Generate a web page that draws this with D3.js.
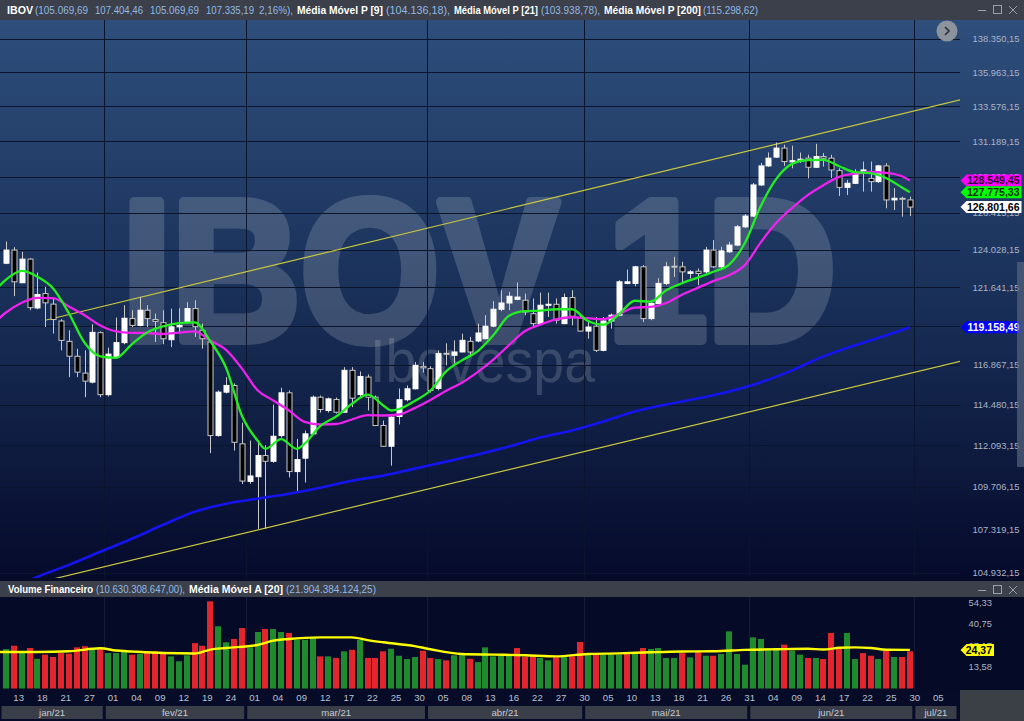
<!DOCTYPE html>
<html><head><meta charset="utf-8">
<script src="https://cdn.jsdelivr.net/npm/d3@7"></script>
<style>body{margin:0;background:#000;overflow:hidden}svg{display:block}</style>
</head><body><svg id="c" width="1024" height="721"></svg>
<script>
// ---------------- DATA ----------------
const dates = ["12/01","13/01","14/01","15/01","18/01","19/01","20/01","21/01","22/01","26/01","27/01","28/01","29/01",
"01/02","02/02","03/02","04/02","05/02","08/02","09/02","10/02","11/02","12/02","17/02","18/02","19/02","22/02","23/02","24/02","25/02","26/02",
"01/03","02/03","03/03","04/03","05/03","08/03","09/03","10/03","11/03","12/03","15/03","16/03","17/03","18/03","19/03","22/03","23/03","24/03","25/03","26/03","29/03","30/03","31/03",
"01/04","05/04","06/04","07/04","08/04","09/04","12/04","13/04","14/04","15/04","16/04","19/04","20/04","22/04","23/04","26/04","27/04","28/04","29/04","30/04",
"03/05","04/05","05/05","06/05","07/05","10/05","11/05","12/05","13/05","14/05","17/05","18/05","19/05","20/05","21/05","24/05","25/05","26/05","27/05","28/05","31/05",
"01/06","02/06","04/06","07/06","08/06","09/06","10/06","11/06","14/06","15/06","16/06","17/06","18/06","21/06","22/06","23/06","24/06","25/06","28/06","29/06","30/06",
"01/07","02/07","05/07"];
const monthLabels = ["jan/21","fev/21","mar/21","abr/21","mai/21","jun/21","jul/21"];
const tickDates = ["13/01","18/01","21/01","27/01","01/02","04/02","09/02","12/02","19/02","24/02","01/03","04/03","09/03","12/03","17/03","22/03","25/03","30/03","05/04","08/04","13/04","16/04","22/04","27/04","30/04","05/05","10/05","13/05","18/05","21/05","26/05","31/05","04/06","09/06","14/06","17/06","22/06","25/06","30/06","05/07"];

const open = [123170,124010,121930,123430,120350,121250,120590,119540,118290,117380,116360,115820,118820,115070,117330,118210,119690,119270,120210,119630,119440,118390,119180,119460,120310,118970,118250,112660,115220,115620,112180,110020,110290,111500,111170,112660,115180,110580,111350,112760,114920,114130,114780,114030,116530,115080,116120,114920,113250,112040,113780,114770,115420,116770,116630,115440,117560,117440,117640,118290,118310,118450,119220,120270,120660,120890,120830,119990,119380,120520,120580,119380,121000,119760,118920,119220,117740,119540,119900,121890,121890,122940,119690,120630,121890,122980,122940,122520,122660,122620,124010,122940,123900,124330,125510,126210,128260,129530,130120,130730,129800,129880,130050,129440,130160,130050,129210,128100,128370,129040,128700,128480,129530,127270,127380,127270];
const high = [124560,124200,123900,123490,122580,121670,120940,119650,118970,117840,117740,119340,118900,117900,119750,120520,120210,121040,120520,120000,120210,120310,120330,120710,120830,119380,118350,115320,116120,115740,113410,112370,112370,112100,114480,115480,115320,112470,112950,115020,115020,114900,114900,116720,116720,116460,116280,115020,113540,113840,115440,115620,117030,117030,116770,117740,118170,118350,118760,118560,119380,119900,120770,121460,121360,121950,121250,120940,121310,121310,120940,121250,121460,119840,119480,119790,119790,120000,122090,122770,123000,123050,120830,122220,123240,123580,123260,122730,122830,124220,124650,124220,124540,125630,126340,128390,129730,130430,131110,130960,130890,130430,130280,131020,130390,130280,129370,128590,129310,129820,129820,129600,129710,128050,127480,127480];
const low = [123110,121090,121910,120210,120270,119170,118770,117740,116120,116120,114920,115740,114920,114960,117310,118110,119170,119210,119170,118250,118110,117940,118790,119400,118560,117840,111640,112600,115140,111790,109870,109890,107350,107350,111090,112540,110250,109400,109960,112720,114010,114010,113950,114010,114330,114900,114130,113220,112020,110920,113310,114670,115380,116400,115200,115320,116830,116930,117620,117440,118230,118410,119160,120150,120210,120830,119900,119170,119340,119790,119380,119340,119270,118900,118450,117640,117680,119070,119840,121840,121710,119480,119590,120590,121780,122300,121890,122200,121780,122520,122860,122860,123820,124270,125430,126150,128190,129460,130070,129530,129370,129730,128700,129400,129490,128720,127530,127590,128320,127820,127820,128390,126720,126610,126170,126210];
const close = [124010,121990,123430,120370,121190,120670,119630,118350,117380,116420,115880,118840,115070,117510,118210,119710,119270,120210,119690,119520,118450,119180,119270,120310,119190,118450,112660,115220,115620,112270,110040,110330,111500,111170,112620,115180,110580,111270,112760,114920,114190,114820,114030,116530,114860,116160,114920,113250,112040,113740,114770,115420,116830,116680,115320,117540,117500,117640,118350,117640,118800,119220,120270,120660,121080,121030,120100,119380,120520,120580,119590,121000,119840,118920,119170,117740,119540,119900,121990,121990,122940,119690,120630,121890,122940,122940,122620,122620,122520,124010,122940,123960,124330,125510,126210,128260,129530,130050,130730,129820,129880,129980,129440,130160,130050,129260,128100,128370,129040,129260,128480,129530,127270,127380,127310,126801.66];

// moving averages: [day index, value]
const ma9 = [[-1,121650],[0,122125],[2,122680],[4,122310],[6,121570],[8,120020],[10,118200],[12,117375],[14,117285],[16,118110],[18,118845],[20,119215],[22,119410],[24,119460],[26,118290],[28,116680],[30,113840],[32,112370],[33,111890],[35,112450],[37,111890],[38,112195],[40,113220],[42,113780],[44,114520],[46,115070],[48,114430],[49,114130],[50,114220],[52,114695],[54,115320],[56,116465],[58,117130],[60,117680],[62,118660],[64,119865],[66,120150],[68,120190],[70,120270],[72,120270],[74,119555],[76,119310],[78,119960],[80,120800],[82,120740],[84,121460],[86,121900],[88,122250],[90,122630],[92,123080],[94,124460],[96,126840],[98,128660],[100,129665],[102,129915],[104,129935],[106,129510],[108,129110],[110,129040],[112,128710],[114,128095],[115,127775.33]];
const ma21 = [[-1,119650],[0,120066],[2,120678],[4,120985],[6,120960],[8,120440],[10,119897],[12,119265],[14,118906],[16,118814],[18,118802],[20,118740],[22,118826],[24,118906],[26,118340],[28,117770],[30,116646],[32,115335],[34,114725],[36,114132],[38,113466],[40,113307],[42,113336],[44,113601],[46,113860],[48,113837],[50,113896],[52,114274],[54,114755],[56,115305],[58,115778],[60,116416],[62,117174],[64,118058],[66,118906],[68,119320],[70,119636],[72,119773],[74,119717],[76,119661],[78,119972],[80,120372],[82,120416],[84,120659],[86,121178],[88,121608],[90,122037],[92,122411],[94,123047],[96,124486],[98,125771],[100,126739],[102,127591],[104,128248],[106,128794],[108,129015],[110,129122],[112,129068],[114,128834],[115,128549.45]];
const ma200 = [[0,103958],[4,104716],[8,105370],[12,106083],[16,106800],[20,107578],[24,108308],[28,108758],[32,109040],[36,109323],[40,109663],[44,110062],[48,110348],[52,110750],[56,111152],[60,111557],[64,112020],[68,112545],[72,112955],[76,113483],[80,114073],[84,114488],[88,114845],[92,115263],[96,115802],[100,116525],[104,117373],[108,118046],[112,118660],[115,119158.49]];
// channel trendlines: [startIndex, startPrice, endIndex, endPrice]
const channel = [[5,119586,121.4,134042],[5,104499,121.4,117070]];

const volume = [24.9,27.0,23.1,25.6,18.8,21.4,19.9,22.4,22.0,26.0,26.7,25.0,25.6,22.4,22.4,23.5,21.4,21.8,23.1,23.5,23.1,20.3,17.2,21.0,28.7,27.0,55.1,39.3,29.2,31.3,38.2,26.0,35.7,37.6,37.6,35.7,35.1,30.8,30.8,31.9,20.3,20.3,19.3,23.5,24.5,30.8,19.3,19.3,23.5,25.1,20.7,18.6,19.9,23.9,19.3,18.6,17.8,21.0,21.4,18.8,16.7,26.0,20.3,20.7,21.0,25.6,19.9,20.3,19.3,17.8,19.7,21.0,20.3,29.4,21.4,21.8,21.4,21.4,21.4,22.4,22.4,25.6,25.0,25.6,19.3,19.3,22.4,19.7,23.1,20.7,20.7,21.8,36.1,21.8,15.0,32.3,31.3,25.6,25.0,27.7,23.9,21.4,19.3,19.3,18.6,35.1,25.0,35.1,18.6,22.4,20.7,18.6,23.9,19.9,19.9,23.5];
const volUp = [1,0,1,0,1,0,0,0,0,0, 0,1,0,1,1,1,0,1,0,0, 0,1,1,1,0,0,0,1,1,0, 0,1,1,0,1,1,0,1,1,1, 0,1,0,1,0,1,0,0,0,1, 1,1,1,0,0,1,0,1,1,0, 1,1,1,1,1,0,0,0,1,1, 0,1,0,0,1,0,1,1,1,0, 1,0,1,1,1,1,0,1,0,1, 0,1,1,1,1,1,1,1,1,0, 1,1,0,1,0,0,0,1,1,0, 0,1,0,1,0,0];
const volMa20 = [[-1,23.1],[0,23.1],[4,23.1],[8,23.5],[12,25.4],[14,24.0],[16,23.4],[20,22.4],[24,22.1],[26,24.6],[28,25.6],[32,27.5],[34,30.2],[36,31.3],[38,32.0],[40,32.3],[44,32.3],[46,30.6],[48,29.2],[52,26.8],[54,24.8],[58,21.8],[62,21.4],[66,21.0],[70,20.3],[74,21.8],[78,22.2],[82,22.9],[86,23.4],[90,23.5],[94,24.4],[98,24.8],[102,25.1],[104,24.6],[106,25.7],[108,26.0],[110,25.6],[112,24.5],[115,24.37]];

const priceTicks = [104932.15,107319.15,109706.15,112093.15,114480.15,116867.15,119254.15,121641.15,124028.15,126415.15,128802.15,131189.15,133576.15,135963.15,138350.15];
const volTicks = [13.58,27.17,40.75,54.33];
const lastValues = [128549.45,127775.33,126801.66,119158.49];
const lastColors = ["#ff00ff","#00ff00","#ffffff","#0000ff"];
const lastText = ["#2a002a","#002a00","#000000","#ffffff"];
const volLast = 24.37;

const header = [["IBOV",1,7,26],["(105.069,69",0,35,53],["107.404,46",0,95,48],["105.069,69",0,150,49],["107.335,19",0,206,48],["2,16%),",0,259,34],
 ["Média Móvel P [9]",1,297,86],["(104.136,18),",0,386,64],["Média Móvel P [21]",1,454,84],["(103.938,78),",0,541,59],["Média Móvel P [200]",1,604,97],["(115.298,62)",0,703,55]];
const volHeader = [["Volume Financeiro",1,8,85],["(10.630.308.647,00),",0,96,89],["Média Móvel A [20]",1,189,94],["(21.904.384.124,25)",0,286,90]];

// ---------------- DRAW ----------------
const svg = d3.select("#c");
const loc = d3.formatLocale({decimal:",",thousands:".",grouping:[3],currency:["",""]});
const fmt = loc.format(",.2f");
const FONT = "'Liberation Sans', Arial, sans-serif";

const x = d3.scaleLinear().domain([0,115]).range([6,909.9]);
const y = d3.scaleLog().domain([104932.15,138350.15]).range([572.9,38.6]);
const yv = d3.scaleLinear().domain([0,54.33]).range([688.5,602.5]);
const N = close.length;

const defs = svg.append("defs");
const gr = defs.append("linearGradient").attr("id","bg").attr("x1",0).attr("y1",0).attr("x2",0).attr("y2",1);
gr.append("stop").attr("offset","0%").attr("stop-color","#2e4e7b");
gr.append("stop").attr("offset","45%").attr("stop-color","#1b335c");
gr.append("stop").attr("offset","100%").attr("stop-color","#050a2b");
defs.append("clipPath").attr("id","cm").append("rect").attr("x",0).attr("y",20).attr("width",960).attr("height",558);
defs.append("clipPath").attr("id","cv").append("rect").attr("x",0).attr("y",597).attr("width",960).attr("height",92);

// backgrounds
svg.append("rect").attr("x",0).attr("y",0).attr("width",1024).attr("height",721).attr("fill","#060b28");
svg.append("rect").attr("x",0).attr("y",20).attr("width",1024).attr("height",558).attr("fill","url(#bg)");
svg.append("rect").attr("x",0).attr("y",0).attr("width",1024).attr("height",20).attr("fill","#3b404b");
svg.append("rect").attr("x",0).attr("y",581).attr("width",1024).attr("height",16).attr("fill","#3b404b");
svg.append("rect").attr("x",0).attr("y",597).attr("width",1024).attr("height",93).attr("fill","#050a26");

// watermark
const wm = svg.append("g").attr("opacity",0.16);
wm.append("text").attr("x",122).attr("y",340).attr("font-family",FONT).attr("font-weight","bold")
  .attr("font-size",200).attr("textLength",714).attr("lengthAdjust","spacingAndGlyphs")
  .attr("fill","#ffffff").attr("stroke","#ffffff").attr("stroke-width",10).attr("stroke-linejoin","round").text("IBOV 1D");
svg.append("text").attr("x",370).attr("y",382).attr("font-family",FONT)
  .attr("font-size",62).attr("textLength",225).attr("lengthAdjust","spacingAndGlyphs")
  .attr("fill","#ffffff").attr("fill-opacity",0.16).text("Ibovespa");

const main = svg.append("g").attr("clip-path","url(#cm)");
// grid
main.selectAll(".hg").data(priceTicks).join("line").attr("x1",0).attr("x2",960)
  .attr("y1",d=>Math.round(y(d))+0.5).attr("y2",d=>Math.round(y(d))+0.5).attr("stroke","#0a142c").attr("stroke-width",1);
const monthStarts = [];
dates.forEach((d,i)=>{ if(i>0 && d.slice(3)!==dates[i-1].slice(3)) monthStarts.push(i); });
main.selectAll(".vg").data(monthStarts).join("line").attr("y1",20).attr("y2",578)
  .attr("x1",d=>Math.round(x(d-0.5))+0.5).attr("x2",d=>Math.round(x(d-0.5))+0.5).attr("stroke","#0a142c").attr("stroke-width",1);

// channel lines
main.selectAll(".ch").data(channel).join("line")
  .attr("x1",d=>x(d[0])).attr("y1",d=>y(d[1])).attr("x2",d=>x(d[2])).attr("y2",d=>y(d[3]))
  .attr("stroke","#c9c83e").attr("stroke-width",1.2);

// candles
const idx = d3.range(N);
main.selectAll(".wk").data(idx).join("line")
  .attr("x1",i=>Math.round(x(i))+0.5).attr("x2",i=>Math.round(x(i))+0.5)
  .attr("y1",i=>y(high[i])).attr("y2",i=>y(low[i])).attr("stroke","#c9c9c9").attr("stroke-width",1);
main.selectAll(".bd").data(idx).join("rect")
  .attr("x",i=>Math.round(x(i))-2).attr("width",5)
  .attr("y",i=>y(Math.max(open[i],close[i])))
  .attr("height",i=>Math.max(1,Math.abs(y(open[i])-y(close[i]))))
  .attr("fill",i=>close[i]>=open[i]?"#ffffff":"#000000")
  .attr("stroke",i=>close[i]>=open[i]?"#ffffff":"#c9c9c9").attr("stroke-width",1);

// moving averages
const line = d3.line().x(d=>x(d[0])).y(d=>y(d[1])).curve(d3.curveMonotoneX);
main.append("path").attr("d",line(ma200)).attr("fill","none").attr("stroke","#1414f0").attr("stroke-width",2.6);
main.append("path").attr("d",line(ma21)).attr("fill","none").attr("stroke","#ee22ee").attr("stroke-width",2.3);
main.append("path").attr("d",line(ma9)).attr("fill","none").attr("stroke","#22ee22").attr("stroke-width",2.3);

// price axis labels
svg.selectAll(".pt").data(priceTicks).join("text").attr("x",1019.5).attr("y",d=>y(d)+3.3)
  .attr("text-anchor","end").attr("font-family",FONT).attr("font-size",9.4).attr("fill","#aab4c6").text(d=>fmt(d));

// last value tags
function tag(cy,color,txtColor,text,right,fs){
  const h=12, tip=960.5;
  svg.append("path").attr("d",`M${tip},${cy} L${tip+6},${cy-h/2} L${right},${cy-h/2} L${right},${cy+h/2} L${tip+6},${cy+h/2} Z`).attr("fill",color);
  svg.append("text").attr("x",right-2).attr("y",cy+3.8).attr("text-anchor","end").attr("font-family",FONT)
    .attr("font-weight","bold").attr("font-size",fs).attr("fill",txtColor).text(text);
}
lastValues.forEach((v,k)=>tag(y(v),lastColors[k],lastText[k],fmt(v),1021.5,10.5));

// scrollbar strip + nav button
svg.append("rect").attr("x",1017).attr("y",262).attr("width",7).attr("height",205).attr("fill","#56647c").attr("opacity",0.7);
svg.append("circle").attr("cx",947).attr("cy",31).attr("r",10.5).attr("fill","#8d939c");
svg.append("path").attr("d","M945,27 L949,31 L945,35").attr("fill","none").attr("stroke","#2a2e36").attr("stroke-width",1.6);

// header texts
function headerText(arr,yy){
  svg.selectAll(null).data(arr).join("text").attr("x",d=>d[2]).attr("y",yy).attr("font-family",FONT)
    .attr("font-size",11).attr("font-weight",d=>d[1]?"bold":"normal").attr("fill",d=>d[1]?"#ffffff":"#93b9e3")
    .attr("textLength",d=>d[3]).attr("lengthAdjust","spacingAndGlyphs").text(d=>d[0]);
}
headerText(header,14);
headerText(volHeader,593);
function winCtl(yy){
  svg.append("line").attr("x1",978).attr("x2",986).attr("y1",yy+0.5).attr("y2",yy+0.5).attr("stroke","#9aa0a8");
  svg.append("rect").attr("x",993.5).attr("y",yy-4.5).attr("width",8).attr("height",8).attr("fill","none").attr("stroke","#9aa0a8");
  svg.append("path").attr("d",`M1009,${yy-4} L1017,${yy+4} M1017,${yy-4} L1009,${yy+4}`).attr("stroke","#9aa0a8");
}
winCtl(10); winCtl(590);

// volume panel
const vol = svg.append("g").attr("clip-path","url(#cv)");
vol.selectAll(".vgl").data(monthStarts).join("line").attr("y1",597).attr("y2",689)
  .attr("x1",d=>Math.round(x(d-0.5))+0.5).attr("x2",d=>Math.round(x(d-0.5))+0.5).attr("stroke","#131c3a");
vol.selectAll(".vb").data(idx).join("rect")
  .attr("x",i=>Math.round(x(i))-3).attr("width",6)
  .attr("y",i=>yv(volume[i])).attr("height",i=>yv(0)-yv(volume[i]))
  .attr("fill",i=>volUp[i]?"#1f8b2d":"#e2262b");
const vline = d3.line().x(d=>x(d[0])).y(d=>yv(d[1])).curve(d3.curveMonotoneX);
vol.append("path").attr("d",vline(volMa20)).attr("fill","none").attr("stroke","#ffff00").attr("stroke-width",2.4);
svg.selectAll(".vt").data(volTicks).join("text").attr("x",992).attr("y",d=>yv(d)+3.3).attr("text-anchor","end")
  .attr("font-family",FONT).attr("font-size",9.4).attr("fill","#aab4c6").text(d=>fmt(d));
(function(){const cy=yv(volLast),h=12,tip=960.5,r=994;
  svg.append("path").attr("d",`M${tip},${cy} L${tip+6},${cy-h/2} L${r},${cy-h/2} L${r},${cy+h/2} L${tip+6},${cy+h/2} Z`).attr("fill","#ffff00");
  svg.append("text").attr("x",r-2).attr("y",cy+3.8).attr("text-anchor","end").attr("font-family",FONT).attr("font-weight","bold")
   .attr("font-size",10.5).attr("fill","#000").text(fmt(volLast));})();

// x axis labels
svg.selectAll(".xt").data(tickDates).join("text").attr("x",d=>x(dates.indexOf(d))-0.5).attr("y",700.5)
  .attr("font-family",FONT).attr("font-size",9.6).attr("fill","#b9c1d0").text(d=>d.slice(0,2));
// month bar
const bounds = [-0.76].concat(monthStarts.map(m=>m-0.5)).concat([121.4]);
const mb = monthLabels.map((m,k)=>({label:m,a:x(bounds[k]),b:x(bounds[k+1])}));
mb[mb.length-1].b = 958;
svg.selectAll(".mb").data(mb).join("rect").attr("x",d=>d.a+1.5).attr("y",706).attr("width",d=>d.b-d.a-3).attr("height",13).attr("fill","#3a3e48");
svg.selectAll(".mt").data(mb).join("text").attr("x",d=>(d.a+d.b)/2).attr("y",716).attr("text-anchor","middle")
  .attr("font-family",FONT).attr("font-size",9.6).attr("fill","#c6cad3").text(d=>d.label);
svg.append("rect").attr("x",960).attr("y",690).attr("width",64).attr("height",31).attr("fill","#3b3f46");
</script></body></html>
